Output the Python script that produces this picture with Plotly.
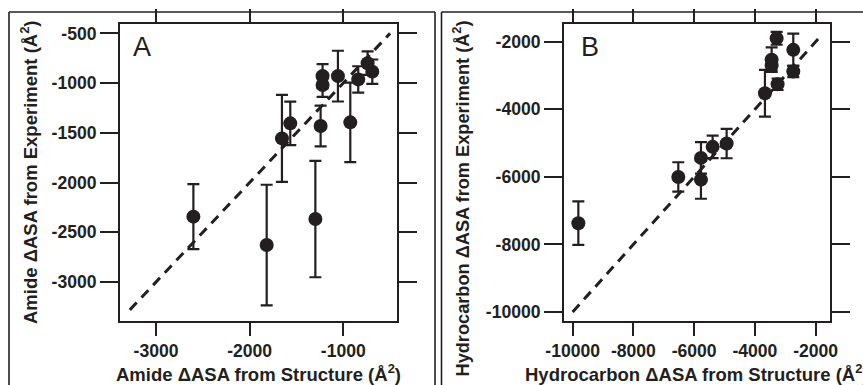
import plotly.graph_objects as go

# ---- Panel A: amide ----
amide_struct = [-2601, -1818, -1655, -1566, -1298, -1242, -1221, -1221, -1057, -925, -840, -740, -690]
amide_exp = [-2343, -2628, -1556, -1405, -2367, -1432, -930, -1020, -930, -1395, -963, -800, -885]
amide_err = [327, 606, 437, 218, 585, 205, 120, 118, 255, 400, 132, 118, 122]
identity_a = [-3280, -500]
a_xticks = [-3000, -2000, -1000]
a_yticks = [-500, -1000, -1500, -2000, -2500, -3000]

# ---- Panel B: hydrocarbon ----
hc_struct = [-9813, -6522, -5776, -5776, -5392, -4931, -3670, -3450, -3450, -3253, -3285, -2737, -2737]
hc_exp = [-7372, -6004, -5439, -6083, -5112, -5013, -3526, -2530, -2700, -3259, -1900, -2240, -2880]
hc_err = [645, 436, 466, 565, 335, 436, 694, 360, 150, 170, 190, 480, 170]
identity_b = [-10000, -1800]
b_xticks = [-10000, -8000, -6000, -4000, -2000]
b_yticks = [-2000, -4000, -6000, -8000, -10000]

W, H = 863, 385
INK = "#231f20"
FONT = "Liberation Sans, Arial, sans-serif"


def px(x):
    return x / W


def py(y):
    return 1 - y / H


def labels(vals):
    return ["<b>%d</b>" % v for v in vals]


fig = go.Figure()

for xs, ys, es, ident, xa, ya in [
    (amide_struct, amide_exp, amide_err, identity_a, "x", "y"),
    (hc_struct, hc_exp, hc_err, identity_b, "x2", "y2"),
]:
    fig.add_trace(go.Scatter(
        x=ident, y=ident, mode="lines", xaxis=xa, yaxis=ya,
        line=dict(color=INK, width=3, dash="10px,7px"), showlegend=False,
        hoverinfo="skip"))
    fig.add_trace(go.Scatter(
        x=xs, y=ys, mode="markers", xaxis=xa, yaxis=ya,
        marker=dict(color=INK, size=14, line=dict(width=0)),
        error_y=dict(type="data", array=es, visible=True, color=INK,
                     thickness=2.2, width=6),
        showlegend=False))

tickfont = dict(family=FONT, size=17.6, color=INK)
axis_common = dict(showgrid=False, zeroline=False, showline=True, linecolor=INK,
                   linewidth=1.8, mirror="ticks", ticks="outside", tickcolor=INK,
                   tickwidth=1.8, tickfont=tickfont, automargin=False)

yd = [py(321), py(24)]
fig.update_layout(
    width=W, height=H, autosize=False,
    margin=dict(l=0, r=0, t=0, b=0, pad=0, autoexpand=False),
    paper_bgcolor="white", plot_bgcolor="white",
    xaxis=dict(domain=[px(120), px(397)], range=[-3385, -426], anchor="y",
               tickvals=a_xticks, ticktext=labels(a_xticks), ticklen=13, **axis_common),
    yaxis=dict(domain=yd, range=[-3392, -406], anchor="x",
               tickvals=a_yticks, ticktext=labels(a_yticks), ticklen=18, **axis_common),
    xaxis2=dict(domain=[px(564), px(830)], range=[-10285, -1528], anchor="y2",
                tickvals=b_xticks, ticktext=labels(b_xticks), ticklen=13, **axis_common),
    yaxis2=dict(domain=yd, range=[-10268, -1475], anchor="x2",
                tickvals=b_yticks, ticktext=labels(b_yticks), ticklen=18, **axis_common),
)

titlefont = dict(family=FONT, size=18.5, color=INK)
ann = [
    dict(text="<b>Amide ΔASA from Structure (Å<sup>2</sup>)</b>", x=px(258.5), y=py(387),
         xanchor="center", yanchor="bottom", font=titlefont),
    dict(text="<b>Amide ΔASA from Experiment (Å<sup>2</sup>)</b>", x=px(28.5), y=py(172.5),
         xanchor="center", yanchor="middle", textangle=-90, font=titlefont),
    dict(text="<b>Hydrocarbon ΔASA from Structure (Å<sup>2</sup>)</b>", x=px(697), y=py(387),
         xanchor="center", yanchor="bottom", font=titlefont),
    dict(text="<b>Hydrocarbon ΔASA from Experiment (Å<sup>2</sup>)</b>", x=px(461.5), y=py(199),
         xanchor="center", yanchor="middle", textangle=-90,
         font=dict(family=FONT, size=18.2, color=INK)),
    dict(text="A", x=px(131), y=py(47.5), xanchor="left", yanchor="middle",
         font=dict(family=FONT, size=27, color=INK)),
    dict(text="B", x=px(579), y=py(47), xanchor="left", yanchor="middle",
         font=dict(family=FONT, size=27, color=INK)),
]
for a in ann:
    a.update(xref="paper", yref="paper", showarrow=False)
fig.update_layout(annotations=ann)

# outer panel frames
frame = dict(type="line", xref="paper", yref="paper", line=dict(color=INK, width=1.6))
shapes = [
    dict(x0=px(9), x1=px(9), y0=py(12), y1=0, **frame),
    dict(x0=px(9), x1=px(435), y0=py(12), y1=py(12), **frame),
    dict(x0=px(435), x1=px(435), y0=py(12), y1=0, **frame),
    dict(x0=px(441.5), x1=px(441.5), y0=py(12), y1=0, **frame),
    dict(x0=px(441.5), x1=1, y0=py(12), y1=py(12), **frame),
]
fig.update_layout(shapes=shapes)

fig.write_html("out.html", config={"displayModeBar": False},
               post_script="document.body.style.margin='0px';"
                           "document.body.style.overflow='hidden';")
